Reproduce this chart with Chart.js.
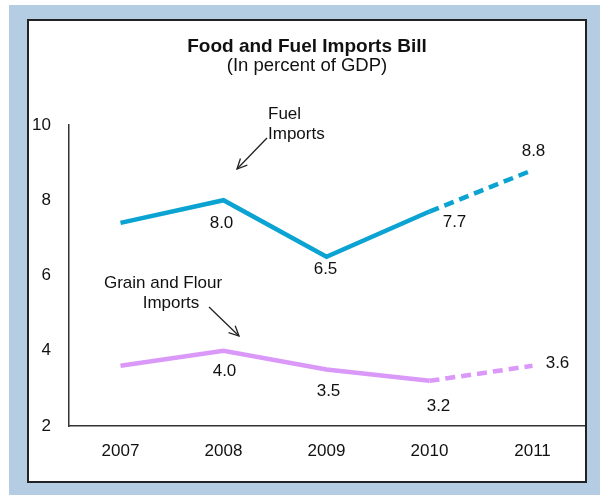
<!DOCTYPE html>
<html>
<head>
<meta charset="utf-8">
<script src="https://cdn.jsdelivr.net/npm/chart.js@4"></script>
<style>
html,body{margin:0;padding:0;background:#fff;}
#wrap{width:600px;height:495px;}
</style>
</head>
<body>
<div id="wrap"><canvas id="c" width="600" height="495"></canvas></div>
<script>
// ---- data ----
const years = ['2007', '2008', '2009', '2010', '2011'];
const fuelImports = [7.4, 8.0, 6.5, 7.7, 8.8];
const grainImports = [3.6, 4.0, 3.5, 3.2, 3.6];
const yTicks = [2, 4, 6, 8, 10];
const titleText = 'Food and Fuel Imports Bill';
const subtitleText = '(In percent of GDP)';
const projectedFrom = 3; // index where dashed (projected) segment starts

// ---- styling (label offsets in px relative to point) ----
const fuelLabelOffsets = [null, [-2, 23], [-1, 13], [25, 11], [1, -19]];
const grainLabelOffsets = [null, [1, 21], [2, 22], [9, 25], [25, -2]];
const FONT = '"Liberation Sans", Arial, sans-serif';
const FUEL_COLOR = '#0AA3D2';
const GRAIN_COLOR = '#DA98F9';

const decor = {
  id: 'decor',
  beforeDraw(chart) {
    const c = chart.ctx;
    c.save();
    c.fillStyle = '#ffffff';
    c.fillRect(0, 0, 600, 495);
    c.fillStyle = '#B4CDE3';
    c.fillRect(9, 5, 591, 490);
    c.fillStyle = '#ffffff';
    c.fillRect(28, 20, 558, 462);
    c.strokeStyle = '#222222';
    c.lineWidth = 2;
    c.strokeRect(28, 20, 558, 462);
    c.restore();
  },
  afterDatasetsDraw(chart) {
    const c = chart.ctx;
    const xs = chart.scales.x, ys = chart.scales.y;
    c.save();
    c.fillStyle = '#111111';
    c.textAlign = 'center';
    c.textBaseline = 'middle';
    c.font = 'bold 19px ' + FONT;
    c.fillText(titleText, 307, 47);
    c.font = '18.5px ' + FONT;
    c.fillText(subtitleText, 307, 66);

    // data labels
    c.font = '17px ' + FONT;
    const drawLabels = (vals, offs) => {
      vals.forEach((v, i) => {
        if (!offs[i]) return;
        const px = xs.getPixelForValue(i), py = ys.getPixelForValue(v);
        c.fillText(v.toFixed(1), px + offs[i][0], py + offs[i][1]);
      });
    };
    drawLabels(fuelImports, fuelLabelOffsets);
    drawLabels(grainImports, grainLabelOffsets);

    // annotations
    c.textAlign = 'left';
    c.fillText('Fuel', 268, 114);
    c.fillText('Imports', 268, 134);
    c.textAlign = 'center';
    c.fillText('Grain and Flour', 163, 283);
    c.fillText('Imports', 171, 303);

    const arrow = (x1, y1, x2, y2) => {
      c.strokeStyle = '#222222';
      c.lineWidth = 1.3;
      c.beginPath();
      c.moveTo(x1, y1); c.lineTo(x2, y2); c.stroke();
      const a = Math.atan2(y2 - y1, x2 - x1), L = 11, w = 0.45;
      c.beginPath();
      c.moveTo(x2 - L * Math.cos(a - w), y2 - L * Math.sin(a - w));
      c.lineTo(x2, y2);
      c.lineTo(x2 - L * Math.cos(a + w), y2 - L * Math.sin(a + w));
      c.stroke();
    };
    arrow(267, 138, 237, 169);
    arrow(209, 307, 239, 336);
    c.restore();
  }
};

const dashSeg = { borderDash: ctx => ctx.p0DataIndex >= projectedFrom ? [10, 6] : undefined };

new Chart(document.getElementById('c'), {
  type: 'line',
  data: {
    labels: years,
    datasets: [
      { label: 'Fuel Imports', data: fuelImports, borderColor: FUEL_COLOR, borderWidth: 4.5,
        pointRadius: 0, tension: 0, segment: dashSeg, borderCapStyle: 'butt' },
      { label: 'Grain and Flour Imports', data: grainImports, borderColor: GRAIN_COLOR, borderWidth: 4.5,
        pointRadius: 0, tension: 0, segment: dashSeg, borderCapStyle: 'butt' }
    ]
  },
  options: {
    responsive: false,
    animation: false,
    devicePixelRatio: 1,
    layout: { padding: { left: 0, right: 16, top: 125, bottom: 29 } },
    plugins: { legend: { display: false }, tooltip: { enabled: false }, title: { display: false } },
    scales: {
      x: {
        offset: true,
        grid: { display: false, drawTicks: false },
        border: { display: true, color: '#333333', width: 1.5 },
        ticks: { color: '#111111', font: { family: FONT, size: 17 }, padding: 15, maxRotation: 0 },
        afterFit(s) { s.height = 40; }
      },
      y: {
        min: 2, max: 10,
        grid: { display: false, drawTicks: false },
        border: { display: true, color: '#333333', width: 1.5 },
        afterBuildTicks(s) { s.ticks = yTicks.map(v => ({ value: v })); },
        ticks: { color: '#111111', font: { family: FONT, size: 17 }, padding: 18 },
        afterFit(s) { s.width = 69; }
      }
    }
  },
  plugins: [decor]
});
</script>
</body>
</html>
